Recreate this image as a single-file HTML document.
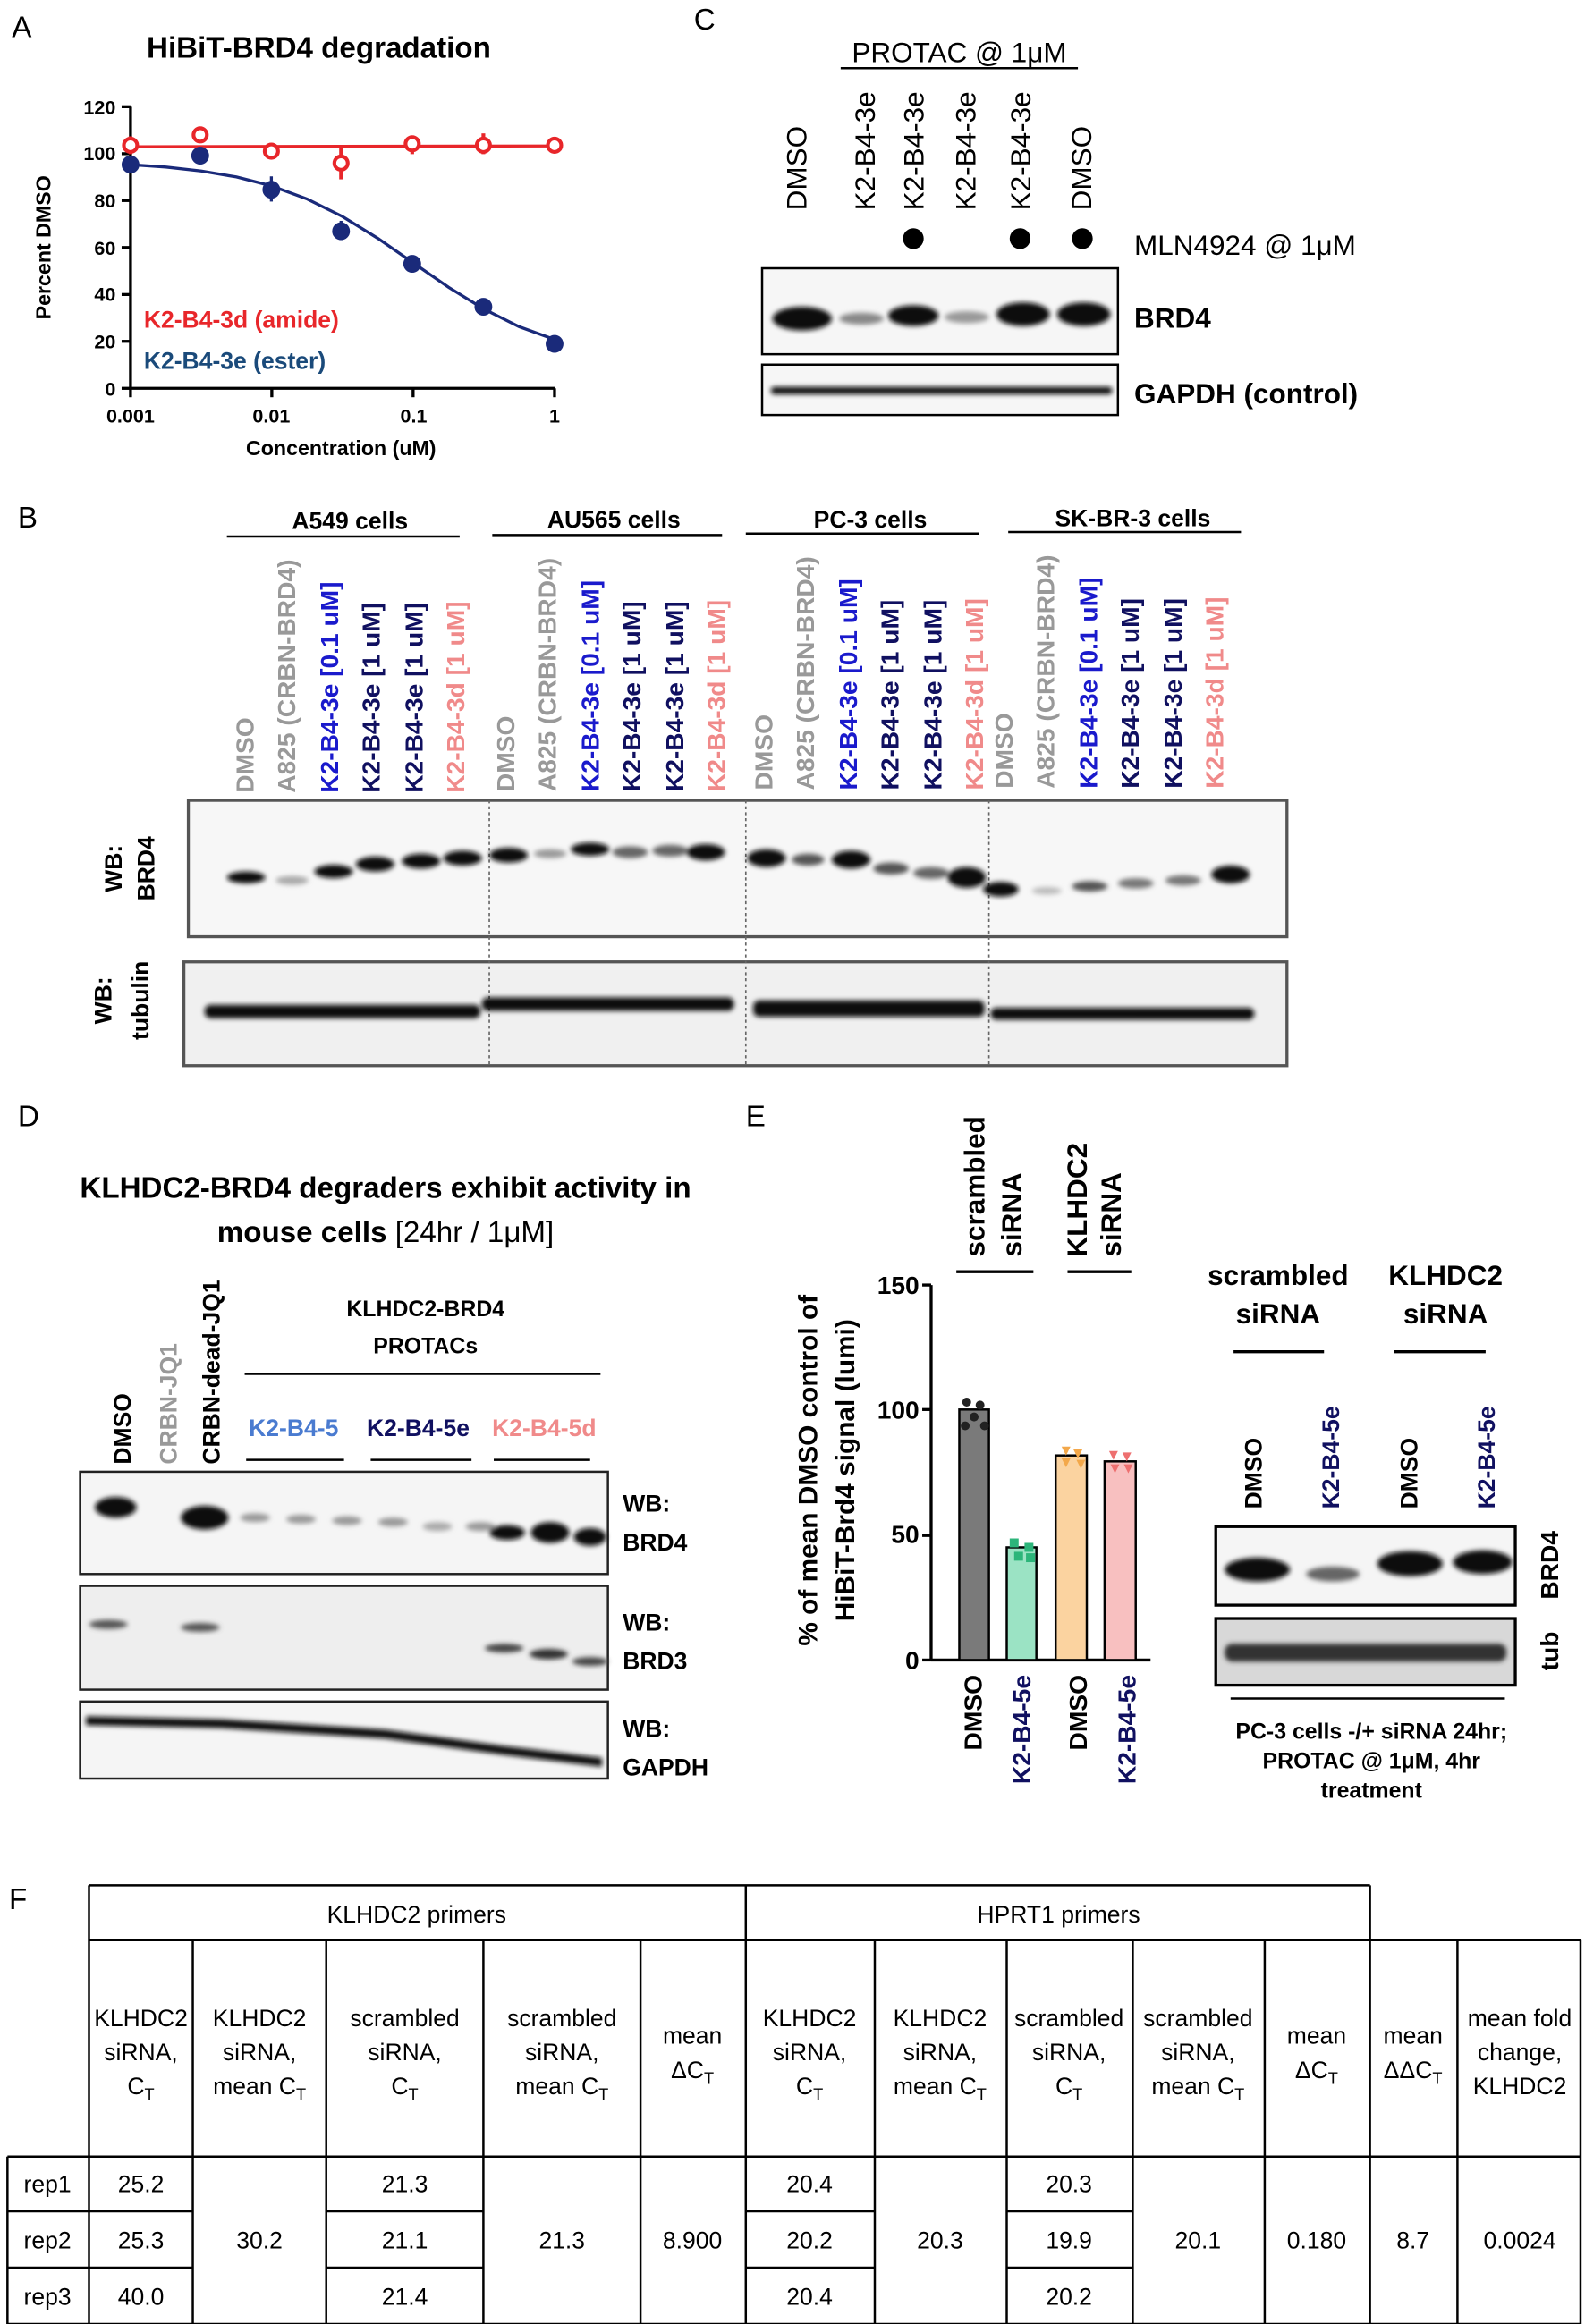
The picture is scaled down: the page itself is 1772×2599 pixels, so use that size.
<!DOCTYPE html>
<html><head><meta charset="utf-8"><style>
html,body{margin:0;padding:0;background:#fff}
svg{display:block}
text{font-family:"Liberation Sans",Arial,sans-serif}
.b{font-weight:bold}
</style></head><body>
<svg width="1772" height="2599" viewBox="0 0 1069 1568" xmlns="http://www.w3.org/2000/svg">
<defs>
<filter id="bl" x="-50%" y="-100%" width="200%" height="300%"><feGaussianBlur stdDeviation="1.6"/></filter>
</defs>
<g font-size="20">
<text x="8" y="25">A</text><text x="468" y="20">C</text><text x="12" y="356">B</text>
<text x="12" y="760">D</text><text x="503" y="760">E</text><text x="6" y="1288">F</text>
</g>

<text x="215" y="39" font-size="20" class="b" text-anchor="middle">HiBiT-BRD4 degradation</text>
<g stroke="#000" stroke-width="2" fill="none">
<line x1="88" y1="72" x2="88" y2="262"/><line x1="88" y1="262" x2="374" y2="262"/>
<line x1="82" y1="72" x2="88" y2="72"/><line x1="82" y1="103.7" x2="88" y2="103.7"/><line x1="82" y1="135.3" x2="88" y2="135.3"/><line x1="82" y1="167" x2="88" y2="167"/><line x1="82" y1="198.7" x2="88" y2="198.7"/><line x1="82" y1="230.3" x2="88" y2="230.3"/><line x1="82" y1="262" x2="88" y2="262"/>
<line x1="88" y1="262" x2="88" y2="268"/><line x1="183.3" y1="262" x2="183.3" y2="268"/><line x1="278.6" y1="262" x2="278.6" y2="268"/><line x1="374" y1="262" x2="374" y2="268"/>
</g>
<g font-size="13" class="b" text-anchor="end">
<text x="78" y="77">120</text><text x="78" y="108">100</text><text x="78" y="140">80</text><text x="78" y="172">60</text><text x="78" y="203">40</text><text x="78" y="235">20</text><text x="78" y="267">0</text>
</g>
<g font-size="13" class="b" text-anchor="middle">
<text x="88" y="285">0.001</text><text x="183" y="285">0.01</text><text x="279" y="285">0.1</text><text x="374" y="285">1</text>
</g>
<text x="230" y="307" font-size="14" class="b" text-anchor="middle">Concentration (uM)</text>
<text transform="translate(34,167) rotate(-90)" font-size="14" class="b" text-anchor="middle">Percent DMSO</text>
<line x1="88" y1="99" x2="374" y2="98.5" stroke="#e8262a" stroke-width="2"/>
<polyline fill="none" stroke="#1a2a7a" stroke-width="2" points="88,111.1 111.8,112.7 135.7,115.4 159.5,119.4 183.3,125.5 207.2,134.3 231,146.1 254.8,160.8 278.6,177.3 302.5,193.8 326.3,208.5 350.1,220.4 374,229.1"/>
<g stroke="#e8262a" stroke-width="2.5" fill="#fff">
<line x1="88" y1="92" x2="88" y2="104"/><line x1="230" y1="100" x2="230" y2="121"/><line x1="278" y1="93" x2="278" y2="104"/><line x1="326" y1="90" x2="326" y2="104"/>
<circle cx="88" cy="98" r="4.5"/><circle cx="135" cy="91" r="4.5"/><circle cx="183" cy="102" r="4.5"/><circle cx="230" cy="110" r="4.5"/><circle cx="278" cy="97" r="4.5"/><circle cx="326" cy="98" r="4.5"/><circle cx="374" cy="98" r="4.5"/>
</g>
<g fill="#1a2a7a" stroke="#1a2a7a" stroke-width="2">
<line x1="183" y1="119" x2="183" y2="136"/><line x1="230" y1="149" x2="230" y2="162"/>
<circle cx="88" cy="111" r="5"/><circle cx="135" cy="105" r="5"/><circle cx="183" cy="128" r="5"/><circle cx="230" cy="156" r="5"/><circle cx="278" cy="178" r="5"/><circle cx="326" cy="207" r="5"/><circle cx="374" cy="232" r="5"/>
</g>
<text x="97" y="221" font-size="16" class="b" fill="#e8262a">K2-B4-3d (amide)</text>
<text x="97" y="249" font-size="16" class="b" fill="#1a4a7a">K2-B4-3e (ester)</text>

<text x="647" y="42" font-size="19" text-anchor="middle">PROTAC @ 1μM</text>
<line x1="567" y1="46" x2="727" y2="46" stroke="#000" stroke-width="1.5"/>
<g font-size="19">
<text transform="translate(544,142) rotate(-90)">DMSO</text>
<text transform="translate(590,142) rotate(-90)">K2-B4-3e</text>
<text transform="translate(623,142) rotate(-90)">K2-B4-3e</text>
<text transform="translate(658,142) rotate(-90)">K2-B4-3e</text>
<text transform="translate(695,142) rotate(-90)">K2-B4-3e</text>
<text transform="translate(736,142) rotate(-90)">DMSO</text>
</g>
<circle cx="616" cy="161" r="7"/><circle cx="688" cy="161" r="7"/><circle cx="730" cy="161" r="7"/>
<text x="765" y="172" font-size="19">MLN4924 @ 1μM</text>
<rect x="514" y="181" width="240" height="58" fill="#f6f6f6" stroke="#000" stroke-width="1.5"/>
<rect x="514" y="246" width="240" height="34" fill="#f6f6f6" stroke="#000" stroke-width="1.5"/>
<g filter="url(#bl)" fill="#111">
<ellipse cx="541" cy="215" rx="20" ry="8"/><ellipse cx="581" cy="215" rx="15" ry="4" fill="#888"/><ellipse cx="616" cy="213" rx="17" ry="7"/><ellipse cx="652" cy="214" rx="15" ry="4" fill="#999"/><ellipse cx="690" cy="212" rx="18" ry="8"/><ellipse cx="731" cy="212" rx="18" ry="8"/>
<rect x="520" y="261" width="230" height="5" rx="2"/>
</g>
<text x="765" y="221" font-size="19" class="b">BRD4</text>
<text x="765" y="272" font-size="19" class="b">GAPDH (control)</text>

<g font-size="16" class="b" text-anchor="middle">
<text x="236" y="357">A549 cells</text><text x="414" y="356">AU565 cells</text><text x="587" y="356">PC-3 cells</text><text x="764" y="355">SK-BR-3 cells</text>
</g>
<g stroke="#000" stroke-width="1.5">
<line x1="153" y1="362" x2="310" y2="362"/><line x1="332" y1="361" x2="487" y2="361"/><line x1="503" y1="360" x2="660" y2="360"/><line x1="680" y1="359" x2="837" y2="359"/>
</g>
<g font-size="17" class="b">
<g>
<text transform="translate(171,535) rotate(-90)" fill="#999">DMSO</text>
<text transform="translate(199,535) rotate(-90)" fill="#999">A825 (CRBN-BRD4)</text>
<text transform="translate(228,535) rotate(-90)" fill="#1a1acc">K2-B4-3e [0.1 uM]</text>
<text transform="translate(256,535) rotate(-90)" fill="#101060">K2-B4-3e [1 uM]</text>
<text transform="translate(285,535) rotate(-90)" fill="#101060">K2-B4-3e [1 uM]</text>
<text transform="translate(313,535) rotate(-90)" fill="#f08a8a">K2-B4-3d [1 uM]</text>
</g>
<g transform="translate(176,-1)">
<text transform="translate(171,535) rotate(-90)" fill="#999">DMSO</text>
<text transform="translate(199,535) rotate(-90)" fill="#999">A825 (CRBN-BRD4)</text>
<text transform="translate(228,535) rotate(-90)" fill="#1a1acc">K2-B4-3e [0.1 uM]</text>
<text transform="translate(256,535) rotate(-90)" fill="#101060">K2-B4-3e [1 uM]</text>
<text transform="translate(285,535) rotate(-90)" fill="#101060">K2-B4-3e [1 uM]</text>
<text transform="translate(313,535) rotate(-90)" fill="#f08a8a">K2-B4-3d [1 uM]</text>
</g>
<g transform="translate(350,-2)">
<text transform="translate(171,535) rotate(-90)" fill="#999">DMSO</text>
<text transform="translate(199,535) rotate(-90)" fill="#999">A825 (CRBN-BRD4)</text>
<text transform="translate(228,535) rotate(-90)" fill="#1a1acc">K2-B4-3e [0.1 uM]</text>
<text transform="translate(256,535) rotate(-90)" fill="#101060">K2-B4-3e [1 uM]</text>
<text transform="translate(285,535) rotate(-90)" fill="#101060">K2-B4-3e [1 uM]</text>
<text transform="translate(313,535) rotate(-90)" fill="#f08a8a">K2-B4-3d [1 uM]</text>
</g>
<g transform="translate(512,-3)">
<text transform="translate(171,535) rotate(-90)" fill="#999">DMSO</text>
<text transform="translate(199,535) rotate(-90)" fill="#999">A825 (CRBN-BRD4)</text>
<text transform="translate(228,535) rotate(-90)" fill="#1a1acc">K2-B4-3e [0.1 uM]</text>
<text transform="translate(256,535) rotate(-90)" fill="#101060">K2-B4-3e [1 uM]</text>
<text transform="translate(285,535) rotate(-90)" fill="#101060">K2-B4-3e [1 uM]</text>
<text transform="translate(313,535) rotate(-90)" fill="#f08a8a">K2-B4-3d [1 uM]</text>
</g>
</g>
<rect x="127" y="540" width="741" height="92" fill="#f7f7f7" stroke="#555" stroke-width="2"/>
<rect x="124" y="649" width="744" height="70" fill="#f0f0f0" stroke="#555" stroke-width="2"/>
<g stroke="#666" stroke-dasharray="2,2" stroke-width="1">
<line x1="330" y1="540" x2="330" y2="719"/><line x1="503" y1="540" x2="503" y2="719"/><line x1="667" y1="540" x2="667" y2="719"/>
</g>
<g filter="url(#bl)" fill="#111">
<ellipse cx="166" cy="592" rx="13" ry="4"/><ellipse cx="197" cy="594" rx="11" ry="3" fill="#aaa"/><ellipse cx="225" cy="588" rx="13" ry="4.5"/><ellipse cx="253" cy="583" rx="13" ry="5"/><ellipse cx="284" cy="581" rx="13" ry="5"/><ellipse cx="312" cy="579" rx="13" ry="5"/>
<ellipse cx="343" cy="577" rx="13" ry="5"/><ellipse cx="371" cy="576" rx="11" ry="3" fill="#999"/><ellipse cx="398" cy="573" rx="13" ry="4.5"/><ellipse cx="425" cy="575" rx="12" ry="4" fill="#666"/><ellipse cx="452" cy="574" rx="12" ry="4" fill="#666"/><ellipse cx="476" cy="575" rx="13" ry="5.5"/>
<ellipse cx="517" cy="579" rx="13" ry="6"/><ellipse cx="545" cy="580" rx="11" ry="4" fill="#555"/><ellipse cx="574" cy="580" rx="13" ry="6"/><ellipse cx="601" cy="586" rx="12" ry="4" fill="#555"/><ellipse cx="628" cy="589" rx="12" ry="4" fill="#666"/><ellipse cx="652" cy="592" rx="13" ry="7"/>
<ellipse cx="675" cy="600" rx="12" ry="5"/><ellipse cx="706" cy="601" rx="10" ry="2.5" fill="#bbb"/><ellipse cx="735" cy="598" rx="12" ry="3.5" fill="#555"/><ellipse cx="766" cy="596" rx="12" ry="3.5" fill="#777"/><ellipse cx="798" cy="594" rx="12" ry="3.5" fill="#777"/><ellipse cx="830" cy="590" rx="13" ry="6"/>
<rect x="138" y="678" width="186" height="9" rx="4"/><rect x="325" y="673" width="170" height="9" rx="4"/><rect x="508" y="675" width="156" height="11" rx="4"/><rect x="668" y="680" width="178" height="8" rx="4"/>
</g>
<g font-size="16" class="b" text-anchor="middle">
<text transform="translate(82,586) rotate(-90)">WB:</text><text transform="translate(104,586) rotate(-90)">BRD4</text>
<text transform="translate(75,675) rotate(-90)">WB:</text><text transform="translate(100,675) rotate(-90)">tubulin</text>
</g>

<text x="260" y="808" font-size="20" class="b" text-anchor="middle">KLHDC2-BRD4 degraders exhibit activity in</text>
<text x="260" y="838" font-size="20" text-anchor="middle"><tspan class="b">mouse cells </tspan>[24hr / 1μM]</text>
<g font-size="16" class="b">
<text transform="translate(88,988) rotate(-90)">DMSO</text>
<text transform="translate(119,988) rotate(-90)" fill="#999">CRBN-JQ1</text>
<text transform="translate(148,988) rotate(-90)">CRBN-dead-JQ1</text>
</g>
<text x="287" y="888" font-size="15" class="b" text-anchor="middle">KLHDC2-BRD4</text>
<text x="287" y="913" font-size="15" class="b" text-anchor="middle">PROTACs</text>
<line x1="165" y1="927" x2="405" y2="927" stroke="#000" stroke-width="1.5"/>
<g font-size="16" class="b" text-anchor="middle">
<text x="198" y="969" fill="#4a7bd0">K2-B4-5</text><text x="282" y="969" fill="#101060">K2-B4-5e</text><text x="367" y="969" fill="#f08a8a">K2-B4-5d</text>
</g>
<g stroke="#000" stroke-width="1.5"><line x1="166" y1="985" x2="232" y2="985"/><line x1="250" y1="985" x2="318" y2="985"/><line x1="333" y1="985" x2="398" y2="985"/></g>
<rect x="54" y="993" width="356" height="69" fill="#f5f5f5" stroke="#222" stroke-width="1.5"/>
<rect x="54" y="1070" width="356" height="70" fill="#eeeeee" stroke="#222" stroke-width="1.5"/>
<rect x="54" y="1148" width="356" height="52" fill="#f5f5f5" stroke="#222" stroke-width="1.5"/>
<g filter="url(#bl)" fill="#111">
<ellipse cx="78" cy="1017" rx="14" ry="7"/><ellipse cx="138" cy="1024" rx="16" ry="8"/>
<ellipse cx="172" cy="1024" rx="10" ry="3" fill="#999"/><ellipse cx="203" cy="1025" rx="10" ry="3" fill="#999"/><ellipse cx="234" cy="1026" rx="10" ry="3" fill="#999"/><ellipse cx="265" cy="1027" rx="10" ry="3" fill="#999"/><ellipse cx="295" cy="1030" rx="10" ry="3" fill="#aaa"/><ellipse cx="324" cy="1030" rx="10" ry="3" fill="#999"/>
<ellipse cx="342" cy="1034" rx="12" ry="5"/><ellipse cx="371" cy="1034" rx="13" ry="7"/><ellipse cx="398" cy="1037" rx="11" ry="6"/>
<ellipse cx="73" cy="1096" rx="13" ry="3" fill="#555"/><ellipse cx="135" cy="1098" rx="13" ry="3" fill="#555"/>
<ellipse cx="340" cy="1112" rx="13" ry="3" fill="#444"/><ellipse cx="370" cy="1116" rx="13" ry="3.5" fill="#333"/><ellipse cx="398" cy="1121" rx="12" ry="3" fill="#444"/>
<polygon points="58,1158 150,1160 260,1167 340,1178 406,1186 406,1192 340,1184 260,1173 150,1166 58,1164"/>
</g>
<g font-size="16" class="b">
<text x="420" y="1020">WB:</text><text x="420" y="1046">BRD4</text>
<text x="420" y="1100">WB:</text><text x="420" y="1126">BRD3</text>
<text x="420" y="1172">WB:</text><text x="420" y="1198">GAPDH</text>
</g>

<g font-size="19" class="b">
<text transform="translate(664,848) rotate(-90)">scrambled</text>
<text transform="translate(689,848) rotate(-90)">siRNA</text>
<text transform="translate(733,848) rotate(-90)">KLHDC2</text>
<text transform="translate(756,848) rotate(-90)">siRNA</text>
</g>
<g stroke="#000" stroke-width="2"><line x1="645" y1="858" x2="697" y2="858"/><line x1="720" y1="858" x2="763" y2="858"/></g>
<g font-size="18" class="b" text-anchor="middle">
<text transform="translate(551,992) rotate(-90)">% of mean DMSO control of</text>
<text transform="translate(576,992) rotate(-90)">HiBiT-Brd4 signal (lumi)</text>
</g>
<g font-size="17" class="b" text-anchor="end"><text x="620" y="873">150</text><text x="620" y="957">100</text><text x="620" y="1041">50</text><text x="620" y="1126">0</text></g>
<g stroke="#000" stroke-width="2">
<line x1="628" y1="867" x2="628" y2="1120"/><line x1="628" y1="1120" x2="776" y2="1120"/>
<line x1="622" y1="867" x2="628" y2="867"/><line x1="622" y1="951" x2="628" y2="951"/><line x1="622" y1="1036" x2="628" y2="1036"/><line x1="622" y1="1120" x2="628" y2="1120"/>
</g>
<g stroke="#000" stroke-width="1.5">
<rect x="647" y="951" width="20" height="169" fill="#7a7a7a"/>
<rect x="679" y="1044" width="20" height="76" fill="#9be3c4"/>
<rect x="712" y="982" width="21" height="138" fill="#fbd3a0"/>
<rect x="745" y="986" width="21" height="134" fill="#f8c0c0"/>
</g>
<g fill="#222"><circle cx="652" cy="946" r="3"/><circle cx="661" cy="948" r="3"/><circle cx="657" cy="956" r="3"/><circle cx="664" cy="962" r="3"/><circle cx="651" cy="962" r="3"/></g>
<g fill="#2cb57a"><rect x="681" y="1038" width="6" height="6"/><rect x="691" y="1041" width="6" height="6"/><rect x="684" y="1047" width="6" height="6"/><rect x="692" y="1048" width="6" height="6"/></g>
<g fill="#f3a84a"><polygon points="716,976 722,976 719,982"/><polygon points="724,978 730,978 727,984"/><polygon points="716,984 722,984 719,990"/><polygon points="726,985 732,985 729,991"/></g>
<g fill="#ee7070"><polygon points="748,979 754,979 751,985"/><polygon points="757,980 763,980 760,986"/><polygon points="749,988 755,988 752,994"/><polygon points="758,988 764,988 761,994"/></g>
<g font-size="17" class="b" text-anchor="end">
<text transform="translate(662,1130) rotate(-90)">DMSO</text>
<text transform="translate(695,1130) rotate(-90)" fill="#101060">K2-B4-5e</text>
<text transform="translate(733,1130) rotate(-90)">DMSO</text>
<text transform="translate(766,1130) rotate(-90)" fill="#101060">K2-B4-5e</text>
</g>
<g font-size="19" class="b" text-anchor="middle">
<text x="862" y="867">scrambled</text><text x="862" y="893">siRNA</text>
<text x="975" y="867">KLHDC2</text><text x="975" y="893">siRNA</text>
</g>
<g stroke="#000" stroke-width="2"><line x1="832" y1="912" x2="893" y2="912"/><line x1="940" y1="912" x2="1002" y2="912"/></g>
<g font-size="16" class="b">
<text transform="translate(851,1018) rotate(-90)">DMSO</text>
<text transform="translate(903,1018) rotate(-90)" fill="#101060">K2-B4-5e</text>
<text transform="translate(956,1018) rotate(-90)">DMSO</text>
<text transform="translate(1008,1018) rotate(-90)" fill="#101060">K2-B4-5e</text>
</g>
<rect x="820" y="1030" width="202" height="53" fill="#f5f5f5" stroke="#000" stroke-width="2"/>
<rect x="820" y="1092" width="202" height="45" fill="#d8d8d8" stroke="#000" stroke-width="2"/>
<g filter="url(#bl)" fill="#111">
<ellipse cx="848" cy="1059" rx="22" ry="8"/><ellipse cx="899" cy="1062" rx="18" ry="5" fill="#666"/><ellipse cx="951" cy="1055" rx="22" ry="8.5"/><ellipse cx="1000" cy="1054" rx="20" ry="8"/>
<rect x="826" y="1109" width="190" height="12" rx="5" fill="#333"/>
</g>
<g font-size="17" class="b" text-anchor="middle">
<text transform="translate(1051,1056) rotate(-90)">BRD4</text><text transform="translate(1051,1114) rotate(-90)">tub</text>
</g>
<line x1="830" y1="1146" x2="1015" y2="1146" stroke="#000" stroke-width="1.5"/>
<g font-size="15" class="b" text-anchor="middle">
<text x="925" y="1173">PC-3 cells -/+ siRNA 24hr;</text><text x="925" y="1193">PROTAC @ 1μM, 4hr</text><text x="925" y="1213">treatment</text>
</g>

<g stroke="#000" stroke-width="1.5" fill="none">
<line x1="60" y1="1272" x2="924" y2="1272"/>
<line x1="60" y1="1309" x2="1066" y2="1309"/>
<line x1="5" y1="1455" x2="1066" y2="1455"/>
<line x1="5" y1="1568" x2="1066" y2="1568"/>
<line x1="5" y1="1492" x2="130" y2="1492"/><line x1="5" y1="1530" x2="130" y2="1530"/>
<line x1="220" y1="1492" x2="326" y2="1492"/><line x1="220" y1="1530" x2="326" y2="1530"/>
<line x1="503" y1="1492" x2="590" y2="1492"/><line x1="503" y1="1530" x2="590" y2="1530"/>
<line x1="679" y1="1492" x2="764" y2="1492"/><line x1="679" y1="1530" x2="764" y2="1530"/>
<line x1="5" y1="1455" x2="5" y2="1568"/>
<line x1="60" y1="1272" x2="60" y2="1568"/>
<line x1="503" y1="1272" x2="503" y2="1568"/>
<line x1="924" y1="1272" x2="924" y2="1568"/>
<line x1="130" y1="1309" x2="130" y2="1568"/><line x1="220" y1="1309" x2="220" y2="1568"/><line x1="326" y1="1309" x2="326" y2="1568"/><line x1="432" y1="1309" x2="432" y2="1568"/>
<line x1="590" y1="1309" x2="590" y2="1568"/><line x1="679" y1="1309" x2="679" y2="1568"/><line x1="764" y1="1309" x2="764" y2="1568"/><line x1="853" y1="1309" x2="853" y2="1568"/>
<line x1="983" y1="1309" x2="983" y2="1568"/><line x1="1066" y1="1309" x2="1066" y2="1568"/>
</g>
<g font-size="16" text-anchor="middle">
<text x="281" y="1297">KLHDC2 primers</text><text x="714" y="1297">HPRT1 primers</text>
<text x="95" y="1367">KLHDC2</text><text x="95" y="1390">siRNA,</text><text x="95" y="1413">C<tspan font-size="11" dy="4">T</tspan></text>
<text x="175" y="1367">KLHDC2</text><text x="175" y="1390">siRNA,</text><text x="175" y="1413">mean C<tspan font-size="11" dy="4">T</tspan></text>
<text x="273" y="1367">scrambled</text><text x="273" y="1390">siRNA,</text><text x="273" y="1413">C<tspan font-size="11" dy="4">T</tspan></text>
<text x="379" y="1367">scrambled</text><text x="379" y="1390">siRNA,</text><text x="379" y="1413">mean C<tspan font-size="11" dy="4">T</tspan></text>
<text x="467" y="1379">mean</text><text x="467" y="1402">ΔC<tspan font-size="11" dy="4">T</tspan></text>
<text x="546" y="1367">KLHDC2</text><text x="546" y="1390">siRNA,</text><text x="546" y="1413">C<tspan font-size="11" dy="4">T</tspan></text>
<text x="634" y="1367">KLHDC2</text><text x="634" y="1390">siRNA,</text><text x="634" y="1413">mean C<tspan font-size="11" dy="4">T</tspan></text>
<text x="721" y="1367">scrambled</text><text x="721" y="1390">siRNA,</text><text x="721" y="1413">C<tspan font-size="11" dy="4">T</tspan></text>
<text x="808" y="1367">scrambled</text><text x="808" y="1390">siRNA,</text><text x="808" y="1413">mean C<tspan font-size="11" dy="4">T</tspan></text>
<text x="888" y="1379">mean</text><text x="888" y="1402">ΔC<tspan font-size="11" dy="4">T</tspan></text>
<text x="953" y="1379">mean</text><text x="953" y="1402">ΔΔC<tspan font-size="11" dy="4">T</tspan></text>
<text x="1025" y="1367">mean fold</text><text x="1025" y="1390">change,</text><text x="1025" y="1413">KLHDC2</text>
<text x="32" y="1479">rep1</text><text x="32" y="1517">rep2</text><text x="32" y="1555">rep3</text>
<text x="95" y="1479">25.2</text><text x="95" y="1517">25.3</text><text x="95" y="1555">40.0</text>
<text x="273" y="1479">21.3</text><text x="273" y="1517">21.1</text><text x="273" y="1555">21.4</text>
<text x="546" y="1479">20.4</text><text x="546" y="1517">20.2</text><text x="546" y="1555">20.4</text>
<text x="721" y="1479">20.3</text><text x="721" y="1517">19.9</text><text x="721" y="1555">20.2</text>
<text x="175" y="1517">30.2</text><text x="379" y="1517">21.3</text><text x="467" y="1517">8.900</text>
<text x="634" y="1517">20.3</text><text x="808" y="1517">20.1</text><text x="888" y="1517">0.180</text>
<text x="953" y="1517">8.7</text><text x="1025" y="1517">0.0024</text>
</g>
</svg>
</body></html>
